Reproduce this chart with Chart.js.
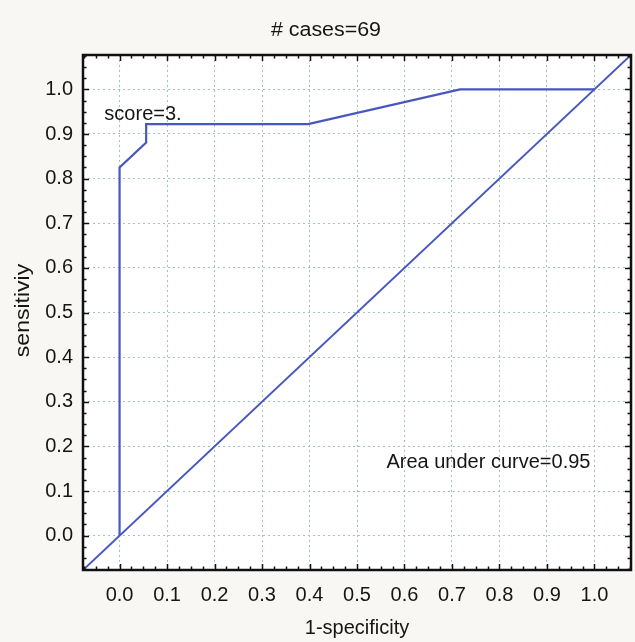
<!DOCTYPE html>
<html>
<head>
<meta charset="utf-8">
<script src="https://cdn.jsdelivr.net/npm/chart.js@4"></script>
<style>
  html, body { margin: 0; padding: 0; background: #f8f7f3; }
  #wrap { width: 635px; height: 642px; }
</style>
</head>
<body>
<div id="wrap"><canvas id="roc" width="635" height="642"></canvas></div>
<script>
// ROC curve
const rocX = [0.0, 0.0, 0.056, 0.056, 0.397, 0.717, 1.0];
const rocY = [0.0, 0.825, 0.881, 0.922, 0.922, 1.0, 1.0];
// reference diagonal, runs corner to corner of the plot
const diagX = [-0.077, 1.077];
const diagY = [-0.077, 1.077];

const majorTicks = [0, 0.1, 0.2, 0.3, 0.4, 0.5, 0.6, 0.7, 0.8, 0.9, 1.0];
const tickLabels = ['0.0','0.1','0.2','0.3','0.4','0.5','0.6','0.7','0.8','0.9','1.0'];
const minorStep = 0.025;
const axisMin = -0.077, axisMax = 1.077;

const titleText = '# cases=69';
const xTitle = '1-specificity';
const yTitle = 'sensitiviy';
const notes = [
  { text: 'score=3.', x: -0.032, y: 0.943 },
  { text: 'Area under curve=0.95', x: 0.562, y: 0.165 },
];

const FONT = '"Liberation Sans", Arial, sans-serif';
const lineColor = '#4657bf';
const textColor = '#151515';

const pts = (xs, ys) => xs.map((x, i) => ({ x, y: ys[i] }));

// frame, inward ticks, titles and notes
const decor = {
  id: 'decor',
  beforeDraw(chart) {
    const { ctx, chartArea: a } = chart;
    ctx.save();
    ctx.fillStyle = '#ffffff';
    ctx.fillRect(a.left, a.top, a.right - a.left, a.bottom - a.top);
    ctx.restore();
  },
  afterDatasetsDraw(chart) {
    const { ctx, chartArea: a, scales } = chart;
    const sx = scales.x, sy = scales.y;
    ctx.save();
    ctx.strokeStyle = '#111';
    ctx.lineWidth = 1.5;
    const n0 = Math.ceil(axisMin / minorStep), n1 = Math.floor(axisMax / minorStep);
    for (let n = n0; n <= n1; n++) {
      const v = n * minorStep;
      const len = n % 4 === 0 ? 6 : 3.5;
      const px = Math.round(sx.getPixelForValue(v)) + 0.5;
      const py = Math.round(sy.getPixelForValue(v)) + 0.5;
      ctx.beginPath();
      ctx.moveTo(px, a.bottom); ctx.lineTo(px, a.bottom - len);
      ctx.moveTo(px, a.top); ctx.lineTo(px, a.top + len);
      ctx.moveTo(a.left, py); ctx.lineTo(a.left + len, py);
      ctx.moveTo(a.right, py); ctx.lineTo(a.right - len, py);
      ctx.stroke();
    }
    ctx.lineWidth = 2.5;
    ctx.strokeRect(a.left, a.top, a.right - a.left, a.bottom - a.top);

    ctx.fillStyle = textColor;
    ctx.textBaseline = 'middle';
    ctx.font = '20px ' + FONT;

    ctx.textAlign = 'center';
    ctx.save();
    ctx.translate(326, 30);
    ctx.scale(1.07, 1);
    ctx.fillText(titleText, 0, 0);
    ctx.restore();

    ctx.fillText(xTitle, (a.left + a.right) / 2, 628);

    ctx.save();
    ctx.translate(23, (a.top + a.bottom) / 2 - 2);
    ctx.rotate(-Math.PI / 2);
    ctx.scale(1.15, 1);
    ctx.fillText(yTitle, 0, 0);
    ctx.restore();

    ctx.textAlign = 'left';
    notes.forEach(n => {
      ctx.fillText(n.text, sx.getPixelForValue(n.x), sy.getPixelForValue(n.y));
    });
    ctx.restore();
  }
};

const gridColor = ctx => (ctx.tick && majorTicks.some(v => Math.abs(v - ctx.tick.value) < 1e-6)) ? '#9fc4c0' : 'rgba(0,0,0,0)';

const axisCommon = {
  type: 'linear',
  min: axisMin,
  max: axisMax,
  afterBuildTicks: s => { s.ticks = majorTicks.map(v => ({ value: v })); },
  grid: { color: gridColor, lineWidth: 1, drawTicks: false },
  border: { display: false, dash: [2, 3] },
};

new Chart(document.getElementById('roc'), {
  type: 'scatter',
  data: {
    datasets: [
      {
        label: 'ROC',
        data: pts(rocX, rocY),
        showLine: true,
        borderColor: lineColor,
        borderWidth: 2.2,
        pointRadius: 0,
        tension: 0,
      },
      {
        label: 'diagonal',
        data: pts(diagX, diagY),
        showLine: true,
        borderColor: lineColor,
        borderWidth: 2,
        pointRadius: 0,
      },
    ],
  },
  options: {
    responsive: false,
    animation: false,
    devicePixelRatio: 1,
    clip: 0,
    layout: { padding: { top: 55, right: 4, left: 0, bottom: 0 } },
    plugins: { legend: { display: false }, tooltip: { enabled: false } },
    scales: {
      x: {
        ...axisCommon,
        afterFit: s => { s.height = 72; },
        ticks: {
          autoSkip: false, maxRotation: 0, padding: 13,
          color: textColor, font: { family: FONT, size: 20 },
          callback: (v, i) => tickLabels[i],
        },
      },
      y: {
        ...axisCommon,
        afterFit: s => { s.width = 83; },
        ticks: {
          autoSkip: false, padding: 10,
          color: textColor, font: { family: FONT, size: 20 },
          callback: (v, i) => tickLabels[i],
        },
      },
    },
  },
  plugins: [decor],
});
</script>
</body>
</html>
